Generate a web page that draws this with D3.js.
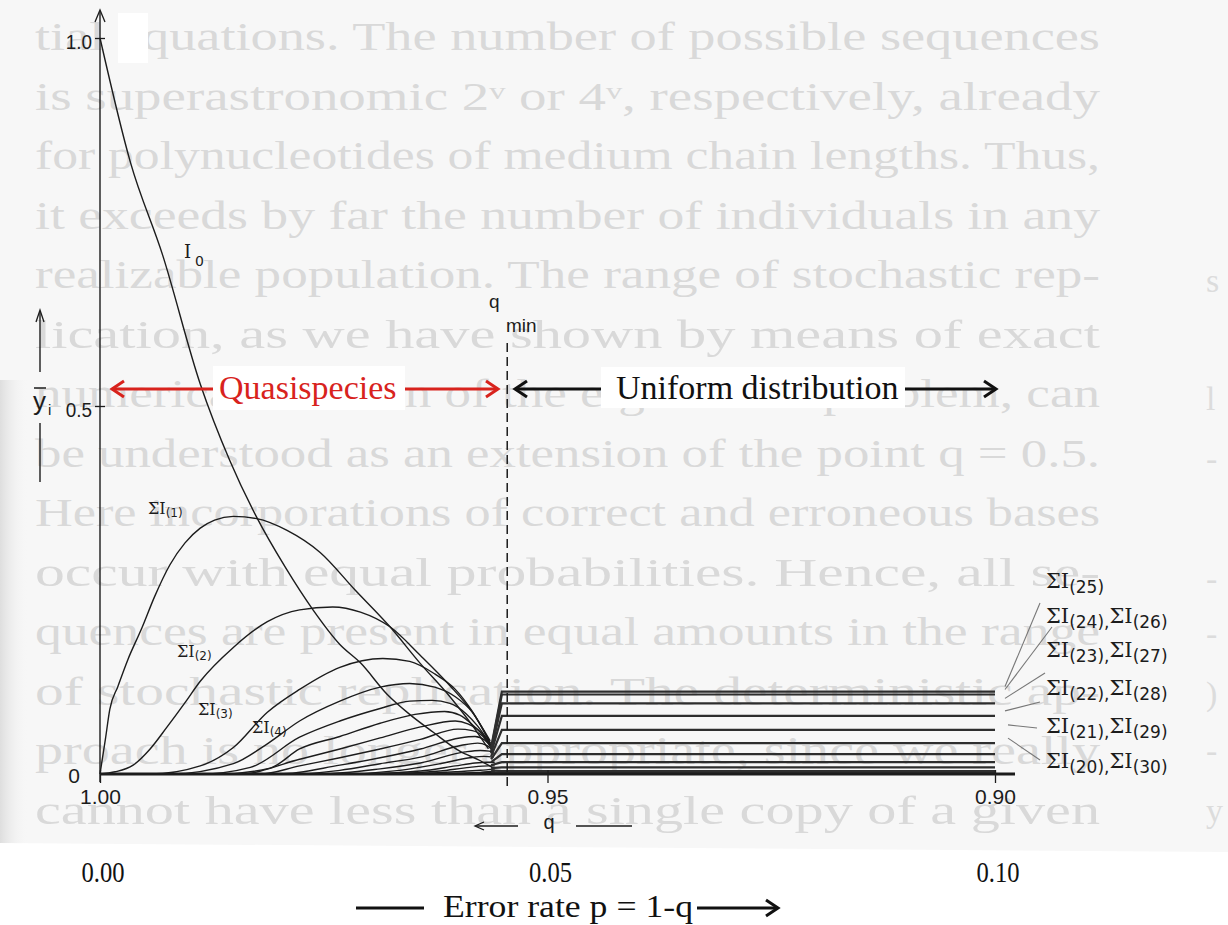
<!DOCTYPE html>
<html><head><meta charset="utf-8">
<script src="https://cdn.jsdelivr.net/npm/d3@7"></script>
<style>html,body{margin:0;padding:0;background:#fff;}svg{display:block}</style>
</head><body>
<svg id="c" width="1228" height="925"></svg>
<script>
// ---------------- DATA ----------------
const qTickValues = [0, 0.05, 0.10];
const qTickLabels = ["1.00", "0.95", "0.90"];
const pTickLabels = ["0.00", "0.05", "0.10"];
const yTickValues = [0, 0.5, 1.0];
const yTickLabels = ["0", "0.5", "1.0"];

// quasispecies region: [error rate p, ybar_i]
const seriesI0 = [[0,1.0],[0.0034,0.831],[0.0070,0.705],[0.0112,0.530],[0.0145,0.426],[0.0175,0.349],[0.0207,0.281],[0.0238,0.223],[0.0268,0.176],[0.0291,0.151],[0.0321,0.108],[0.0346,0.081],[0.0372,0.057],[0.0402,0.031],[0.0425,0.018],[0.0441,0.007]];
const seriesS1 = [[0,0],[0.0006,0.047],[0.0011,0.088],[0.0020,0.119],[0.0031,0.155],[0.0047,0.199],[0.0061,0.241],[0.0078,0.284],[0.0095,0.314],[0.0112,0.334],[0.0128,0.345],[0.0149,0.350],[0.0175,0.347],[0.0209,0.331],[0.0246,0.301],[0.0285,0.250],[0.0324,0.200],[0.0358,0.150],[0.0391,0.105],[0.0416,0.066],[0.0434,0.034]];
const seriesS2 = [[0,0],[0.0017,0.003],[0.0037,0.012],[0.0056,0.034],[0.0075,0.064],[0.0095,0.097],[0.0112,0.126],[0.0149,0.172],[0.0187,0.207],[0.0223,0.223],[0.0260,0.227],[0.0291,0.220],[0.0324,0.200],[0.0358,0.161],[0.0391,0.120],[0.0416,0.084],[0.0436,0.045]];
const seriesS3 = [[0,0],[0.0056,0],[0.0112,0.011],[0.0149,0.036],[0.0187,0.084],[0.0223,0.115],[0.0268,0.145],[0.0316,0.157],[0.0346,0.153],[0.0374,0.136],[0.0397,0.115],[0.0416,0.085],[0.0436,0.042]];
const seriesS4 = [[0,0],[0.0078,0],[0.0149,0.014],[0.0187,0.041],[0.0223,0.072],[0.0268,0.099],[0.0313,0.118],[0.0346,0.123],[0.0374,0.118],[0.0397,0.105],[0.0416,0.084],[0.0436,0.042]];
const seriesS5 = [[0,0],[0.0112,0],[0.0168,0.009],[0.0223,0.050],[0.0268,0.072],[0.0313,0.089],[0.0346,0.099],[0.0371,0.100],[0.0391,0.096],[0.0409,0.082],[0.0422,0.065],[0.0436,0.041]];
const seriesS6 = [[0,0],[0.0134,0],[0.0190,0.008],[0.0223,0.034],[0.0268,0.051],[0.0313,0.069],[0.0352,0.081],[0.0385,0.085],[0.0402,0.080],[0.0417,0.066],[0.0428,0.053],[0.0437,0.039]];
const seriesS7 = [[0,0],[0.0156,0],[0.0223,0.020],[0.0268,0.034],[0.0313,0.049],[0.0358,0.064],[0.0397,0.072],[0.0411,0.068],[0.0425,0.057],[0.0437,0.038]];
const seriesS8 = [[0,0],[0.0179,0],[0.0223,0.011],[0.0268,0.022],[0.0313,0.034],[0.0358,0.047],[0.0400,0.061],[0.0416,0.059],[0.0428,0.051],[0.0437,0.036]];
const seriesS9 = [[0,0],[0.0201,0],[0.0268,0.012],[0.0313,0.022],[0.0358,0.034],[0.0402,0.049],[0.0419,0.051],[0.0430,0.046],[0.0438,0.035]];
const seriesS10 = [[0,0],[0.0223,0],[0.0268,0.005],[0.0313,0.014],[0.0358,0.023],[0.0404,0.039],[0.0422,0.042],[0.0432,0.039],[0.0439,0.032]];
const seriesS11 = [[0,0],[0.0246,0],[0.0313,0.007],[0.0358,0.015],[0.0408,0.030],[0.0425,0.032],[0.0435,0.031],[0.0440,0.028]];
const seriesS12 = [[0,0],[0.0268,0],[0.0335,0.005],[0.0380,0.014],[0.0413,0.022],[0.0429,0.024],[0.0440,0.023]];
const seriesS13 = [[0,0],[0.0291,0],[0.0358,0.004],[0.0397,0.011],[0.0419,0.015],[0.0432,0.016],[0.0441,0.016]];
const seriesS14 = [[0,0],[0.0313,0],[0.0380,0.004],[0.0413,0.009],[0.0434,0.011],[0.0441,0.011]];
const seriesS15 = [[0,0],[0.0335,0],[0.0397,0.003],[0.0425,0.005],[0.0441,0.007]];
const seriesS16 = [[0,0],[0.0358,0],[0.0413,0.001],[0.0441,0.003]];
const seriesS17 = [[0,0],[0.0380,0],[0.0425,0.002],[0.0441,0.004]];
const seriesS18 = [[0,0],[0.0400,0],[0.0432,0.002],[0.0443,0.002]];

// uniform distribution region
const collapseP = 0.0437;                      // where quasispecies curves collapse
const riserStartV = [0.036, 0.034, 0.031, 0.028, 0.024, 0.020, 0.016, 0.012, 0.008, 0.005, 0.002];
const riserP = 0.0449;                         // where uniform levels are reached
const qminP = 0.0455;                          // q_min (dashed line)
const uniformLevels = [0.112, 0.108, 0.096, 0.079, 0.060, 0.042, 0.027, 0.016, 0.009, 0.004, 0.002];
const uniformLabelSubs = [["25"], ["24","26"], ["23","27"], ["22","28"], ["21","29"], ["20","30"]];

// faded text showing through the scanned page
const bgLines = [
 "tial equations. The number of possible sequences",
 "is superastronomic 2ᵛ or 4ᵛ, respectively, already",
 "for polynucleotides of medium chain lengths. Thus,",
 "it exceeds by far the number of individuals in any",
 "realizable population. The range of stochastic rep-",
 "lication, as we have shown by means of exact",
 "numerical solution of the eigenvalue problem, can",
 "be understood as an extension of the point q = 0.5.",
 "Here incorporations of correct and erroneous bases",
 "occur with equal probabilities. Hence, all se-",
 "quences are present in equal amounts in the range",
 "of stochastic replication. The deterministic ap-",
 "proach is no longer appropriate, since we really",
 "cannot have less than a single copy of a given",
 "sequence in the volume under consideration. We"
];
const marginMarks = ["s","l","-","-","-",")","-","y"];

// ---------------- DRAW ----------------
const W = 1228, H = 925;
const svg = d3.select("#c");
const x = d3.scaleLinear().domain([0, 0.1]).range([100, 995]);
const y = d3.scaleLinear().domain([0, 1]).range([774, 38]);
const INK = "#1c1c1c";

const defs = svg.append("defs");
defs.append("clipPath").attr("id", "scan").append("path").attr("d", "M0,0H1228V852L0,843Z");
const lg = defs.append("linearGradient").attr("id", "edge").attr("x1", 0).attr("x2", 1);
lg.append("stop").attr("offset", 0).attr("stop-color", "#dedede");
lg.append("stop").attr("offset", 1).attr("stop-color", "#f6f6f6").attr("stop-opacity", 0);

svg.append("rect").attr("width", W).attr("height", H).attr("fill", "#fff");
const scan = svg.append("g").attr("clip-path", "url(#scan)");
scan.append("rect").attr("width", W).attr("height", H).attr("fill", "#f7f7f7");
scan.append("rect").attr("x", 0).attr("y", 380).attr("width", 28).attr("height", 480).attr("fill", "url(#edge)");

scan.selectAll("text.bg").data(bgLines).join("text").attr("class", "bg")
  .attr("x", 35).attr("y", (d, i) => 50 + i * 59.5)
  .attr("textLength", 1065).attr("lengthAdjust", "spacingAndGlyphs")
  .attr("font-family", "'Liberation Serif', serif").attr("font-size", 40)
  .attr("fill", "#d9d9d9").text(d => d);
scan.selectAll("text.mm").data(marginMarks).join("text").attr("class", "mm")
  .attr("x", 1206).attr("y", (d, i) => [292, 410, 470, 590, 645, 705, 762, 822][i])
  .attr("font-family", "'Liberation Serif', serif").attr("font-size", 34)
  .attr("fill", "#dcdcdc").text(d => d);

// white patch near the 1.0 label
svg.append("rect").attr("x", 118).attr("y", 13).attr("width", 30).attr("height", 50).attr("fill", "#fff");

const chart = svg.append("g");
const line = d3.line().x(d => x(d[0])).y(d => y(d[1])).curve(d3.curveMonotoneX);

// quasispecies curves
const leftSeries = [seriesI0, seriesS1, seriesS2, seriesS3, seriesS4, seriesS5, seriesS6, seriesS7, seriesS8,
  seriesS9, seriesS10, seriesS11, seriesS12, seriesS13, seriesS14, seriesS15, seriesS16, seriesS17, seriesS18];
chart.selectAll("path.q").data(leftSeries).join("path").attr("class", "q")
  .attr("d", line).attr("fill", "none").attr("stroke", INK).attr("stroke-width", 1.4);

// uniform distribution lines (riser from collapse point, then flat)
const uniformSeries = uniformLevels.map((v, i) => [[collapseP, riserStartV[i]], [riserP, v], [0.1, v]]);
const lineLin = d3.line().x(d => x(d[0])).y(d => y(d[1]));
chart.selectAll("path.u").data(uniformSeries).join("path").attr("class", "u")
  .attr("d", lineLin).attr("fill", "none").attr("stroke", "#2e2e2e").attr("stroke-width", 2.2);

// axes
const yAxis = d3.axisLeft(y).tickValues(yTickValues.slice(1)).tickSize(5).tickPadding(4)
  .tickFormat((d) => yTickLabels[yTickValues.indexOf(d)]);
const gy = chart.append("g").attr("transform", `translate(${x(0)},0)`).call(yAxis);
gy.select(".domain").remove();
gy.selectAll(".tick line").attr("x1", 5).attr("stroke", INK).attr("stroke-width", 1.3);
gy.selectAll(".tick text").attr("font-family", "'Liberation Sans', sans-serif").attr("font-size", 21)
  .attr("fill", INK).attr("transform", "scale(0.9,1)").attr("dy", "0.5em");
chart.append("text").attr("x", 80).attr("y", y(0) + 9).attr("text-anchor", "end")
  .attr("font-family", "'Liberation Sans', sans-serif").attr("font-size", 21).attr("fill", INK).text(yTickLabels[0]);
chart.append("line").attr("x1", x(0)).attr("x2", x(0)).attr("y1", 12).attr("y2", 782)
  .attr("stroke", INK).attr("stroke-width", 1.4);
chart.append("path").attr("d", `M${x(0) - 5},22L${x(0)},10L${x(0) + 5},22`).attr("fill", "none").attr("stroke", INK).attr("stroke-width", 1.3);

const xAxis = d3.axisBottom(x).tickValues(qTickValues).tickSize(9).tickPadding(6)
  .tickFormat(d => qTickLabels[qTickValues.indexOf(d)]);
const gx = chart.append("g").attr("transform", `translate(0,${y(0)})`).call(xAxis);
gx.select(".domain").remove();
gx.selectAll(".tick line").attr("y1", -4).attr("stroke", INK).attr("stroke-width", 1.3);
gx.selectAll(".tick text").attr("font-family", "'Liberation Sans', sans-serif").attr("font-size", 21).attr("fill", INK);
chart.append("line").attr("x1", x(0)).attr("x2", 1015).attr("y1", y(0)).attr("y2", y(0))
  .attr("stroke", INK).attr("stroke-width", 3);

// y label with arrow
chart.append("line").attr("x1", 40).attr("x2", 40).attr("y1", 312).attr("y2", 372).attr("stroke", INK).attr("stroke-width", 1.4);
chart.append("path").attr("d", "M36,322L40,310L44,322").attr("fill", "none").attr("stroke", INK).attr("stroke-width", 1.3);
chart.append("line").attr("x1", 40).attr("x2", 40).attr("y1", 423).attr("y2", 482).attr("stroke", INK).attr("stroke-width", 1.4);
chart.append("text").attr("x", 33).attr("y", 410).attr("font-family", "'Liberation Sans', sans-serif").attr("font-size", 26).attr("fill", INK).text("y");
chart.append("line").attr("x1", 34).attr("x2", 46).attr("y1", 388).attr("y2", 388).attr("stroke", INK).attr("stroke-width", 1.5);
chart.append("text").attr("x", 48).attr("y", 415).attr("font-family", "'Liberation Sans', sans-serif").attr("font-size", 15).attr("fill", INK).text("i");

// q_min dashed line
chart.append("line").attr("x1", x(qminP)).attr("x2", x(qminP)).attr("y1", 343).attr("y2", 786)
  .attr("stroke", INK).attr("stroke-width", 1.5).attr("stroke-dasharray", "9,5");
chart.append("text").attr("x", 489).attr("y", 308).attr("font-family", "'Liberation Sans', sans-serif").attr("font-size", 19).attr("fill", INK).text("q");
chart.append("text").attr("x", 506).attr("y", 332).attr("font-family", "'Liberation Sans', sans-serif").attr("font-size", 19).attr("fill", INK).text("min");

// "<- q --" below axis
chart.append("line").attr("x1", 476).attr("x2", 518).attr("y1", 826).attr("y2", 826).attr("stroke", INK).attr("stroke-width", 1.4);
chart.append("path").attr("d", "M484,822L475,826L484,830").attr("fill", "none").attr("stroke", INK).attr("stroke-width", 1.3);
chart.append("text").attr("x", 549).attr("y", 829).attr("text-anchor", "middle").attr("font-family", "'Liberation Sans', sans-serif").attr("font-size", 20).attr("fill", INK).text("q");
chart.append("line").attr("x1", 576).attr("x2", 632).attr("y1", 826).attr("y2", 826).attr("stroke", INK).attr("stroke-width", 1.4);

// Sigma labels
function sigmaLabel(px, py, subs, big, small, drop) {
  const t = chart.append("text").attr("x", px).attr("y", py).attr("fill", INK);
  subs.forEach((s, i) => {
    if (i > 0) t.append("tspan").attr("font-family", "'DejaVu Sans', sans-serif").attr("font-size", small).text(",");
    t.append("tspan").attr("font-family", "'DejaVu Serif', serif").attr("font-size", big).attr("dy", i === 0 ? 0 : -drop).text("ΣI");
    t.append("tspan").attr("font-family", "'DejaVu Sans', sans-serif").attr("font-size", small).attr("dy", drop).text("(" + s + ")");
  });
}
// I0
chart.append("text").attr("x", 184).attr("y", 258).attr("font-family", "'DejaVu Serif', serif").attr("font-size", 18).attr("fill", INK).text("I");
chart.append("text").attr("x", 195).attr("y", 266).attr("font-family", "'DejaVu Sans', sans-serif").attr("font-size", 14).attr("fill", INK).text("0");
sigmaLabel(148, 514, ["1"], 16, 12, 3);
sigmaLabel(177, 657, ["2"], 16, 12, 3);
sigmaLabel(198, 715, ["3"], 16, 12, 3);
sigmaLabel(252, 733, ["4"], 16, 12, 3);

// right-hand labels and leaders
const rightBase = [588, 623, 657, 695, 733, 768];
const leaderStart = [[1040, 603], [1052, 627], [1045, 673], [1040, 702], [1037, 728], [1040, 760]];
uniformLabelSubs.forEach((subs, i) => {
  sigmaLabel(1046, rightBase[i], subs, 21, 17, 5);
  chart.append("line").attr("x1", leaderStart[i][0]).attr("y1", leaderStart[i][1])
    .attr("x2", x(0.1) + 10 + (i > 3 ? 3 : 0)).attr("y2", y(uniformLevels[i]) - 5)
    .attr("stroke", "#777").attr("stroke-width", 1.1);
});

// annotations
const RED = "#d8231d";
svg.append("rect").attr("x", 213).attr("y", 366).attr("width", 192).attr("height", 44).attr("fill", "#fff");
svg.append("rect").attr("x", 601).attr("y", 367).attr("width", 304).attr("height", 41).attr("fill", "#fff");
svg.append("text").attr("x", 219).attr("y", 399).attr("font-family", "'Liberation Serif', serif").attr("font-size", 34).attr("fill", RED).text("Quasispecies");
svg.append("line").attr("x1", 213).attr("x2", 112).attr("y1", 389).attr("y2", 389).attr("stroke", RED).attr("stroke-width", 3);
svg.append("path").attr("d", "M124,381L112,389L124,397").attr("fill", "none").attr("stroke", RED).attr("stroke-width", 3);
svg.append("line").attr("x1", 405).attr("x2", 498).attr("y1", 389).attr("y2", 389).attr("stroke", RED).attr("stroke-width", 3);
svg.append("path").attr("d", "M486,381L498,389L486,397").attr("fill", "none").attr("stroke", RED).attr("stroke-width", 3);
svg.append("text").attr("x", 616).attr("y", 399).attr("font-family", "'Liberation Serif', serif").attr("font-size", 34).attr("fill", "#111").text("Uniform distribution");
svg.append("line").attr("x1", 601).attr("x2", 515).attr("y1", 389).attr("y2", 389).attr("stroke", "#111").attr("stroke-width", 3);
svg.append("path").attr("d", "M527,381L515,389L527,397").attr("fill", "none").attr("stroke", "#111").attr("stroke-width", 3);
svg.append("line").attr("x1", 905).attr("x2", 996).attr("y1", 389).attr("y2", 389).attr("stroke", "#111").attr("stroke-width", 3);
svg.append("path").attr("d", "M984,381L996,389L984,397").attr("fill", "none").attr("stroke", "#111").attr("stroke-width", 3);

// error-rate axis labels
svg.selectAll("text.pl").data(qTickValues).join("text").attr("class", "pl")
  .attr("transform", d => `translate(${x(d) + 3},882) scale(0.82,1)`).attr("text-anchor", "middle")
  .attr("font-family", "'Liberation Serif', serif").attr("font-size", 30).attr("fill", "#111")
  .text((d, i) => pTickLabels[i]);
svg.append("text").attr("x", 443).attr("y", 917).attr("textLength", 250).attr("lengthAdjust", "spacingAndGlyphs")
  .attr("font-family", "'Liberation Serif', serif").attr("font-size", 31).attr("fill", "#111").text("Error rate  p = 1-q");
svg.append("line").attr("x1", 356).attr("x2", 424).attr("y1", 908).attr("y2", 908).attr("stroke", "#111").attr("stroke-width", 3);
svg.append("line").attr("x1", 697).attr("x2", 777).attr("y1", 908).attr("y2", 908).attr("stroke", "#111").attr("stroke-width", 3);
svg.append("path").attr("d", "M766,900L778,908L766,916").attr("fill", "none").attr("stroke", "#111").attr("stroke-width", 3);
</script>
</body></html>
